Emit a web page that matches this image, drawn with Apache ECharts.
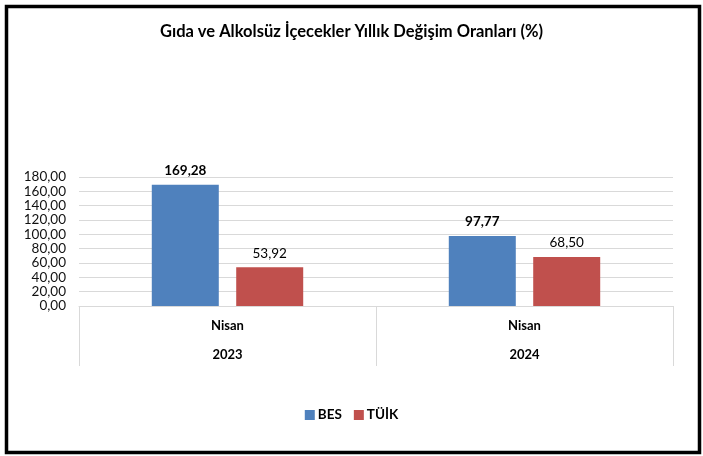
<!DOCTYPE html>
<html>
<head>
<meta charset="utf-8">
<script src="https://cdn.jsdelivr.net/npm/echarts@6/dist/echarts.min.js"></script>
<style>
  html, body { margin: 0; padding: 0; background: #fff; }
  #chart { width: 703px; height: 456px; }
</style>
</head>
<body>
<div id="chart"></div>
<script>
// veriler
const months = ['Nisan', 'Nisan'];
const years = ['2023', '2024'];
const besValues = [169.28, 97.77];
const tuikValues = [53.92, 68.5];
const seriesNames = ['BES', 'TÜİK'];

const fmt = v => v.toFixed(2).replace('.', ',');
const categories = months.map((m, i) => m + '\n' + years[i]);

const myChart = echarts.init(document.getElementById('chart'));

const option = {
  backgroundColor: '#fff',
  textStyle: { fontFamily: 'Lato' },
  title: {
    text: 'Gıda ve Alkolsüz İçecekler Yıllık Değişim Oranları (%)',
    left: 'center',
    top: 18,
    textStyle: { fontFamily: 'Lato', fontSize: 16.5, fontWeight: 'bold', color: '#000' }
  },
  graphic: [
    {
      type: 'rect',
      shape: { x: 6.5, y: 6.5, width: 693, height: 446 },
      style: { fill: null, stroke: '#000', lineWidth: 3.5 },
      silent: true
    }
  ],
  legend: {
    data: seriesNames,
    bottom: 29,
    left: 'center',
    itemWidth: 10,
    itemHeight: 10,
    itemGap: 12,
    icon: 'rect',
    textStyle: { fontFamily: 'Lato', fontSize: 13.5, fontWeight: 'bold', color: '#000', padding: [0, 0, 0, -2] }
  },
  grid: { left: 79, right: 30, top: 177, bottom: 150 },
  xAxis: {
    type: 'category',
    data: categories,
    axisLine: { show: true, lineStyle: { color: '#d9d9d9', width: 1 } },
    axisTick: { show: true, length: 60, interval: 0, lineStyle: { color: '#d9d9d9' } },
    axisLabel: {
      interval: 0,
      margin: 5,
      lineHeight: 29,
      fontFamily: 'Lato',
      fontSize: 13,
      fontWeight: 'bold',
      color: '#000'
    }
  },
  yAxis: {
    type: 'value',
    min: 0,
    max: 180,
    interval: 20,
    axisLine: { show: false },
    axisTick: { show: false },
    axisLabel: {
      margin: 13,
      fontFamily: 'Lato',
      fontSize: 13.5,
      color: '#111',
      formatter: v => fmt(v)
    },
    splitLine: { show: true, lineStyle: { color: '#d9d9d9', width: 1 } }
  },
  series: [
    {
      name: seriesNames[0],
      type: 'bar',
      data: besValues,
      barWidth: 67,
      barGap: '26%',
      itemStyle: { color: '#4f81bd' },
      label: {
        show: true,
        position: 'top',
        distance: 7,
        fontFamily: 'Lato',
        fontSize: 13.5,
        fontWeight: 'bold',
        color: '#000',
        formatter: p => fmt(p.value)
      }
    },
    {
      name: seriesNames[1],
      type: 'bar',
      data: tuikValues,
      barWidth: 67,
      itemStyle: { color: '#c0504d' },
      label: {
        show: true,
        position: 'top',
        distance: 7,
        fontFamily: 'Lato',
        fontSize: 13.5,
        color: '#000',
        formatter: p => fmt(p.value)
      }
    }
  ]
};

myChart.setOption(option);
</script>
</body>
</html>
